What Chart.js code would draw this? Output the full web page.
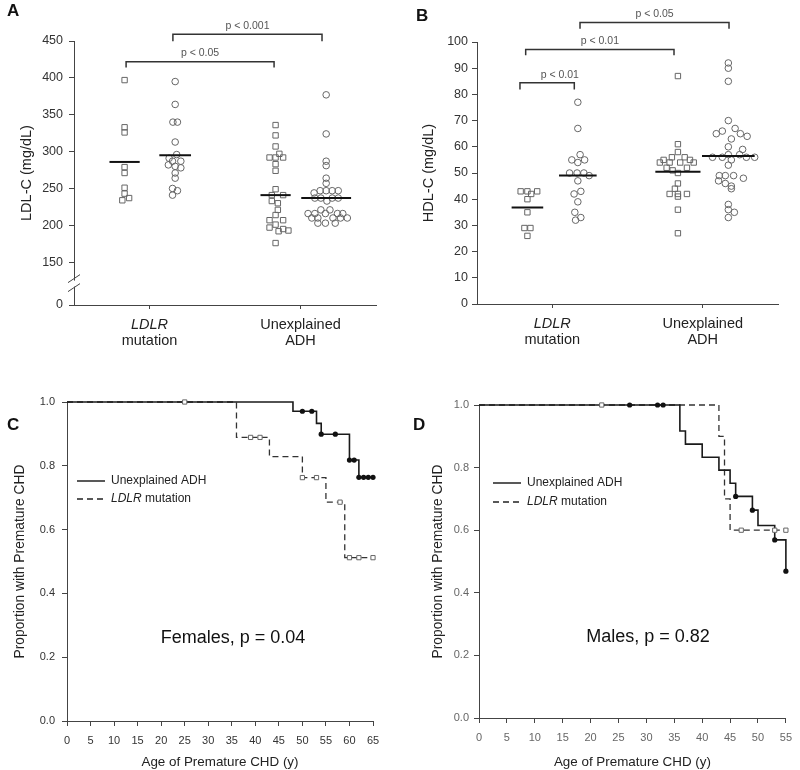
<!DOCTYPE html>
<html>
<head>
<meta charset="utf-8">
<script src="https://cdn.jsdelivr.net/npm/chart.js@4.4.1/dist/chart.umd.min.js"></script>
<style>
  html, body { margin: 0; padding: 0; background: #fff; }
  #fig { position: relative; width: 800px; height: 770px; }
  #fig canvas { position: absolute; }
</style>
</head>
<body>
<div id="fig">
  <canvas id="chart-a" width="400" height="385" style="left:0;top:0"></canvas>
  <canvas id="chart-b" width="400" height="385" style="left:400px;top:0"></canvas>
  <canvas id="chart-c" width="400" height="385" style="left:0;top:385px"></canvas>
  <canvas id="chart-d" width="400" height="385" style="left:400px;top:385px"></canvas>
</div>
<script>
const FONT = "'Liberation Sans', Arial, Helvetica, sans-serif";
Chart.defaults.font.family = FONT;
Chart.defaults.color = "#333";

// ── Data: panel A, LDL-C (mg/dL) ─────────────────────
const groupNames = [["LDLR", "mutation"], ["Unexplained", "ADH"]];
const ldlTicks = [0, 150, 200, 250, 300, 350, 400, 450];

const ldlLdlrSq    = [397, 333, 326, 279, 271, 251, 243, 234, 237];
const ldlLdlrCirc  = [395, 364, 340, 340, 313, 296, 291, 287, 287, 282, 280, 278, 271, 264, 250, 247, 241];
const ldlUnexSq    = [336, 322, 307, 297, 292, 292, 292, 283, 274, 249, 241, 241, 233, 230, 221, 214,
                      207, 207, 201, 197, 195, 193, 192, 176];
const ldlUnexCirc  = [377, 324, 287, 281, 264, 257, 247, 247, 247, 247, 244, 237, 237, 237, 237, 233,
                      221, 221, 216, 216, 216, 216, 216, 210, 210, 210, 210, 210, 203, 203, 203];
const ldlMeans     = [286, 295, 241, 237];

// ── Data: panel B, HDL-C (mg/dL) ─────────────────────
const hdlLdlrSq    = [43, 43, 43, 42, 40, 35, 29, 29, 26];
const hdlLdlrCirc  = [77, 67, 57, 55, 55, 54, 50, 50, 50, 49, 47, 43, 42, 39, 35, 33, 32];
const hdlUnexSq    = [87, 61, 58, 56, 56, 55, 55, 54, 54, 54, 54, 52, 52, 51, 50, 46, 44, 42, 42, 42, 41, 36, 27];
const hdlUnexCirc  = [92, 90, 85, 70, 67, 66, 65, 65, 64, 63, 60, 59, 57, 57, 56, 56, 56, 56, 55, 53,
                      49, 49, 49, 48, 47, 46, 45, 44, 38, 36, 35, 33];
const hdlMeans     = [36.8, 49, 50.5, 56.5];

// ── Data: panel C, females (Kaplan-Meier) ────────────
const femUnexAge  = [0, 48, 53, 54, 60, 62, 65];
const femUnexSurv = [1, 0.971, 0.933, 0.899, 0.818, 0.764, 0.764];
const femUnexCens = [50, 52, 54, 57, 60, 61, 62, 63, 64, 65];
const femLdlrAge  = [0, 36, 43, 50, 55, 59, 65];
const femLdlrSurv = [1, 0.889, 0.829, 0.763, 0.686, 0.512, 0.512];
const femLdlrCens = [25, 39, 41, 50, 53, 58, 60, 62, 65];

// ── Data: panel D, males (Kaplan-Meier) ──────────────
const maleUnexAge  = [0, 36, 37, 40, 43, 45, 46, 49, 50, 53, 55];
const maleUnexSurv = [1, 0.917, 0.875, 0.833, 0.792, 0.750, 0.708, 0.664, 0.615, 0.569, 0.469];
const maleUnexCens = [27, 32, 33, 46, 49, 53, 55];
const maleLdlrAge  = [0, 43, 44, 45, 55];
const maleLdlrSurv = [1, 0.9, 0.7, 0.6, 0.6];
const maleLdlrCens = [22, 47, 53, 55];

// ── Layout of the dot plots (x axis runs 0..4, groups sit around 1 and 3) ──
const GROUP_TICKS = [1, 3];
const GROUP_X = [0.67, 1.34, 2.67, 3.34];
const LDL_AXIS_MIN = 92; // where the "0" tick sits below the axis break

// horizontal scatter of the points inside each group (axis units)
const jitterLdl = [
  [0, 0, 0, 0, 0, 0, 0, -0.03, 0.06],
  [0, 0, -0.03, 0.03, 0, 0.02, -0.08, -0.035, 0.075, -0.09, 0, 0.075, 0, 0, -0.035, 0.03, -0.035],
  [0, 0, 0, 0.05, -0.08, 0, 0.1, 0, 0, 0, -0.05, 0.1, -0.05, 0.03, 0.03, 0, -0.08, 0.1, 0, -0.08, 0.1, 0.17, 0.04, 0],
  [0, 0, 0, 0, 0, 0, -0.08, 0, 0.08, 0.16, -0.16, -0.15, -0.07, 0.08, 0.16, 0.01, -0.07, 0.05,
   -0.24, -0.15, -0.01, 0.15, 0.22, -0.19, -0.11, 0.09, 0.19, 0.28, -0.11, -0.01, 0.12]
];
const jitterHdl = [
  [-0.09, 0, 0.13, 0.05, 0, 0, -0.04, 0.04, 0],
  [0, 0, 0.03, -0.08, 0.09, 0, -0.11, -0.01, 0.08, 0.15, 0, 0.04, -0.05, 0, -0.04, 0.04, -0.03],
  [0, 0, 0, -0.08, 0.09, -0.19, 0.16, -0.24, -0.11, 0.03, 0.21, -0.15, 0.12, -0.07, 0, 0, -0.04, -0.11, 0, 0.12, 0, 0, 0],
  [0, 0, 0, 0, 0.09, -0.08, -0.16, 0.16, 0.25, 0.04, 0, 0.19, 0, 0.15, -0.21, -0.08, 0.24, 0.35, 0.04, 0,
   -0.12, -0.04, 0.07, 0.2, -0.13, -0.04, 0.04, 0.04, 0, 0, 0.08, 0]
];

const axisGrid = (len) => ({ drawOnChartArea: false, drawTicks: true, tickLength: len, color: "#444", lineWidth: 1 });
const axisBorder = { display: true, color: "#444", width: 1 };

// ── Annotation plugin: letters, group labels, brackets, legends ──
const figurePlugin = {
  id: "figure",
  afterDraw(chart, args, o) {
    const ctx = chart.ctx;
    const xs = chart.scales.x, ys = chart.scales.y, area = chart.chartArea;
    ctx.save();
    ctx.fillStyle = "#111";
    ctx.font = `bold 17px ${FONT}`;
    ctx.textAlign = "left"; ctx.textBaseline = "alphabetic";
    ctx.fillText(o.letter, o.letterX, o.letterY);

    if (o.groupLabels) {
      ctx.textAlign = "center"; ctx.textBaseline = "middle"; ctx.fillStyle = "#222";
      GROUP_TICKS.forEach((t, i) => {
        const x = xs.getPixelForValue(t);
        groupNames[i].forEach((line, j) => {
          ctx.font = `${line === "LDLR" ? "italic " : ""}14.5px ${FONT}`;
          ctx.fillText(line, x, area.bottom + 20 + j * 16);
        });
      });
    }

    (o.brackets || []).forEach(b => {
      const x1 = xs.getPixelForValue(b.from), x2 = xs.getPixelForValue(b.to);
      const yt = ys.getPixelForValue(b.top), yl = ys.getPixelForValue(b.leg);
      ctx.strokeStyle = "#333"; ctx.lineWidth = 1.5;
      ctx.beginPath();
      ctx.moveTo(x1, yl); ctx.lineTo(x1, yt); ctx.lineTo(x2, yt); ctx.lineTo(x2, yl);
      ctx.stroke();
      ctx.fillStyle = "#555"; ctx.font = `10.5px ${FONT}`;
      ctx.textAlign = "center"; ctx.textBaseline = "bottom";
      ctx.fillText(b.label, b.labelAt != null ? xs.getPixelForValue(b.labelAt) : (x1 + x2) / 2, yt - 3);
    });

    if (o.axisBreak) {
      const yb = ys.getPixelForValue((ys.min + ldlTicks[1]) / 2);
      const x = area.left;
      ctx.fillStyle = "#fff";
      ctx.fillRect(x - 2, yb - 3, 4, 6);
      ctx.strokeStyle = "#444"; ctx.lineWidth = 1;
      ctx.beginPath();
      ctx.moveTo(x - 6, yb - 1); ctx.lineTo(x + 6, yb - 9);
      ctx.moveTo(x - 6, yb + 8); ctx.lineTo(x + 6, yb);
      ctx.stroke();
    }

    if (o.legend) {
      const L = o.legend;
      ctx.strokeStyle = "#222"; ctx.lineWidth = 1.5;
      ctx.beginPath(); ctx.moveTo(L.x, L.y); ctx.lineTo(L.x + 28, L.y); ctx.stroke();
      ctx.setLineDash([6, 4]); ctx.lineWidth = 1.3;
      ctx.beginPath(); ctx.moveTo(L.x, L.y + L.gap); ctx.lineTo(L.x + 28, L.y + L.gap); ctx.stroke();
      ctx.setLineDash([]);
      ctx.fillStyle = "#222"; ctx.textAlign = "left"; ctx.textBaseline = "middle";
      ctx.font = `12px ${FONT}`;
      ctx.fillText("Unexplained ADH", L.x + 34, L.y);
      ctx.font = `italic 12px ${FONT}`;
      ctx.fillText("LDLR", L.x + 34, L.y + L.gap);
      const w = ctx.measureText("LDLR").width;
      ctx.font = `12px ${FONT}`;
      ctx.fillText(" mutation", L.x + 34 + w, L.y + L.gap);
    }

    if (o.note) {
      ctx.fillStyle = "#111"; ctx.font = `18px ${FONT}`;
      ctx.textAlign = "center"; ctx.textBaseline = "middle";
      ctx.fillText(o.note.text, o.note.x, o.note.y);
    }
    ctx.restore();
  }
};

// ── Dot plots (A, B) ─────────────────────────────────
function dotChart(id, o) {
  const datasets = [];
  o.means.forEach((m, i) => datasets.push({
    data: [{ x: GROUP_X[i] - o.meanHalf[i], y: m }, { x: GROUP_X[i] + o.meanHalf[i], y: m }],
    showLine: true, borderColor: "#111", borderWidth: 2, pointRadius: 0, clip: false
  }));
  o.series.forEach((vals, i) => datasets.push({
    data: vals.map((v, k) => ({ x: GROUP_X[i] + o.jitter[i][k], y: v })),
    pointStyle: i % 2 ? "circle" : "rect",
    pointRadius: i % 2 ? 3.3 : 3.8,
    pointBackgroundColor: "rgba(0,0,0,0)", pointBorderColor: "#666", pointBorderWidth: 1,
    clip: false
  }));
  return new Chart(document.getElementById(id), {
    type: "scatter",
    data: { datasets },
    plugins: [figurePlugin],
    options: {
      responsive: false, animation: false, devicePixelRatio: 1,
      layout: { padding: { top: o.top, right: o.right, left: 0, bottom: 0 } },
      plugins: { legend: { display: false }, tooltip: { enabled: false }, figure: o.figure },
      scales: {
        x: {
          type: "linear", min: 0, max: 4,
          afterBuildTicks: s => { s.ticks = GROUP_TICKS.map(v => ({ value: v })); },
          afterFit: s => { s.height = o.xHeight; },
          ticks: { display: false },
          grid: axisGrid(4), border: axisBorder
        },
        y: o.yScale
      }
    }
  });
}

dotChart("chart-a", {
  series: [ldlLdlrSq, ldlLdlrCirc, ldlUnexSq, ldlUnexCirc], jitter: jitterLdl,
  means: ldlMeans, meanHalf: [0.2, 0.21, 0.2, 0.33],
  top: 41, right: 24, xHeight: 80,
  figure: {
    letter: "A", letterX: 7, letterY: 16, groupLabels: true, axisBreak: true,
    brackets: [
      { from: 0.69, to: 2.65, top: 422, leg: 414, label: "p < 0.05" },
      { from: 1.31, to: 3.285, top: 459, leg: 449.5, label: "p < 0.001" }
    ]
  },
  yScale: {
    min: LDL_AXIS_MIN, max: 450,
    afterBuildTicks: s => { s.ticks = ldlTicks.map(v => ({ value: v === 0 ? s.min : v })); },
    afterFit: s => { s.width = 74; },
    ticks: { callback: (v, i) => String(ldlTicks[i]), font: { size: 12.5 }, color: "#333", padding: 6 },
    grid: axisGrid(5), border: axisBorder,
    title: { display: true, text: "LDL-C (mg/dL)", font: { size: 14.5 }, color: "#222", padding: { top: 18, bottom: 0 } }
  }
});

dotChart("chart-b", {
  series: [hdlLdlrSq, hdlLdlrCirc, hdlUnexSq, hdlUnexCirc], jitter: jitterHdl,
  means: hdlMeans, meanHalf: [0.21, 0.25, 0.3, 0.35],
  top: 42, right: 22, xHeight: 81,
  figure: {
    letter: "B", letterX: 16, letterY: 21, groupLabels: true,
    brackets: [
      { from: 1.369, to: 3.349, top: 107.4, leg: 105.1, label: "p < 0.05" },
      { from: 0.647, to: 2.618, top: 97.1, leg: 94.9, label: "p < 0.01" },
      { from: 0.571, to: 1.293, top: 84.4, leg: 81.9, label: "p < 0.01", labelAt: 1.1 }
    ]
  },
  yScale: {
    min: 0, max: 100,
    afterFit: s => { s.width = 77; },
    ticks: { stepSize: 10, font: { size: 12.5 }, color: "#333", padding: 4 },
    grid: axisGrid(5), border: axisBorder,
    title: { display: true, text: "HDL-C (mg/dL)", font: { size: 14.5 }, color: "#222", padding: { top: 20, bottom: 0 } }
  }
});

// ── Kaplan-Meier plots (C, D) ────────────────────────
function survAt(ages, surv, t) {
  let s = surv[0];
  ages.forEach((a, i) => { if (a <= t) s = surv[i]; });
  return s;
}

function kmChart(id, o) {
  const unexLine = o.unexAge.map((a, i) => ({ x: a, y: o.unexSurv[i] }));
  const ldlrLine = o.ldlrAge.map((a, i) => ({ x: a, y: o.ldlrSurv[i] }));
  return new Chart(document.getElementById(id), {
    type: "line",
    data: {
      datasets: [
        { data: o.unexCens.map(t => ({ x: t, y: survAt(o.unexAge, o.unexSurv, t) })), showLine: false,
          pointStyle: "circle", pointRadius: 2.6, pointBackgroundColor: "#111", pointBorderColor: "#111",
          pointBorderWidth: 0, clip: false },
        { data: o.ldlrCens.map(t => ({ x: t, y: survAt(o.ldlrAge, o.ldlrSurv, t) })), showLine: false,
          pointStyle: "rect", pointRadius: 3, pointBackgroundColor: "#fff", pointBorderColor: "#666",
          pointBorderWidth: 1, clip: false },
        { data: unexLine, stepped: true, borderColor: "#1a1a1a", borderWidth: 1.6, pointRadius: 0, clip: false },
        { data: ldlrLine, stepped: true, borderColor: "#333", borderWidth: 1.3, borderDash: [6, 4], pointRadius: 0, clip: false }
      ]
    },
    plugins: [figurePlugin],
    options: {
      responsive: false, animation: false, devicePixelRatio: 1,
      layout: { padding: { top: o.top, right: o.right, left: 0, bottom: 0 } },
      plugins: { legend: { display: false }, tooltip: { enabled: false }, figure: o.figure },
      scales: {
        x: {
          type: "linear", min: 0, max: o.xMax,
          afterFit: s => { s.height = o.xHeight; },
          ticks: { stepSize: 5, maxRotation: 0, font: { size: 11 }, color: o.tickColor, padding: 8 },
          grid: axisGrid(5), border: axisBorder,
          title: { display: true, text: "Age of Premature CHD (y)", font: { size: 13.4 }, color: "#222", padding: { top: 0, bottom: 0 } }
        },
        y: {
          min: 0, max: 1,
          afterFit: s => { s.width = o.yWidth; },
          ticks: { stepSize: 0.2, callback: v => v.toFixed(1), font: { size: 11 }, color: o.tickColor, padding: o.yPad },
          grid: axisGrid(5), border: axisBorder,
          title: { display: true, text: "Proportion with Premature CHD", font: { size: 13.8 }, color: "#222",
                   padding: { top: o.yTitlePad, bottom: 0 } }
        }
      }
    }
  });
}

kmChart("chart-c", {
  unexAge: femUnexAge, unexSurv: femUnexSurv, unexCens: femUnexCens,
  ldlrAge: femLdlrAge, ldlrSurv: femLdlrSurv, ldlrCens: femLdlrCens,
  xMax: 65, top: 17, right: 27, xHeight: 49, yWidth: 67, yPad: 7, yTitlePad: 12, tickColor: "#333",
  figure: {
    letter: "C", letterX: 7, letterY: 45,
    legend: { x: 77, y: 96, gap: 18 },
    note: { text: "Females, p = 0.04", x: 233, y: 253 }
  }
});

kmChart("chart-d", {
  unexAge: maleUnexAge, unexSurv: maleUnexSurv, unexCens: maleUnexCens,
  ldlrAge: maleLdlrAge, ldlrSurv: maleLdlrSurv, ldlrCens: maleLdlrCens,
  xMax: 55, top: 20, right: 6, xHeight: 52, yWidth: 79, yPad: 5, yTitlePad: 30, tickColor: "#666",
  figure: {
    letter: "D", letterX: 13, letterY: 45,
    legend: { x: 93, y: 98, gap: 19 },
    note: { text: "Males, p = 0.82", x: 248, y: 252 }
  }
});
</script>
</body>
</html>
